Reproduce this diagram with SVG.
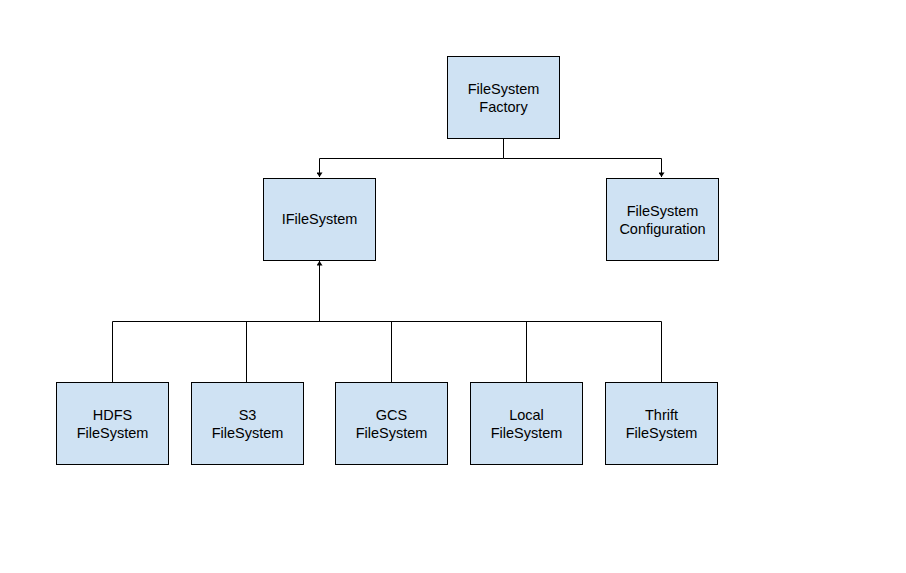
<svg xmlns="http://www.w3.org/2000/svg" width="906" height="573" viewBox="0 0 906 573">
<style>
.box{fill:#cfe2f3;stroke:#000;stroke-width:1}
.t{font-family:"Liberation Sans",Arial,sans-serif;font-size:14.5px;fill:#000;text-anchor:middle}
.c{fill:none;stroke:#000;stroke-width:1}
</style>
<defs>
<marker id="ah" viewBox="0 0 6 8" refX="6" refY="4" markerWidth="5" markerHeight="6" markerUnits="userSpaceOnUse" orient="auto">
<path d="M0,0 L6,4 L0,8 z" fill="#000"/>
</marker>
</defs>
<rect width="906" height="573" fill="#fff"/>
<g id="connectors">
<path class="c" d="M503.5,138 V158.5 H319.5 V177" marker-end="url(#ah)"/>
<path class="c" d="M503.5,158.5 H661.5 V177" marker-end="url(#ah)"/>
<path class="c" d="M112.5,382 V321.5 H661.5 V382"/>
<path class="c" d="M246.5,382 V321.5"/>
<path class="c" d="M391.5,382 V321.5"/>
<path class="c" d="M526.5,382 V321.5"/>
<path class="c" d="M319.5,321.5 V261" marker-end="url(#ah)"/>
</g>
<g id="factory"><rect class="box" x="447.5" y="56.5" width="112" height="82"/><text class="t" x="503.5" y="94">FileSystem</text><text class="t" x="503.5" y="112">Factory</text></g>
<g id="ifilesystem"><rect class="box" x="263.5" y="178.5" width="112" height="82"/><text class="t" x="319.5" y="224">IFileSystem</text></g>
<g id="config"><rect class="box" x="606.5" y="178.5" width="112" height="82"/><text class="t" x="662.5" y="216">FileSystem</text><text class="t" x="662.5" y="234">Configuration</text></g>
<g id="hdfs"><rect class="box" x="56.5" y="382.5" width="112" height="82"/><text class="t" x="112.5" y="420">HDFS</text><text class="t" x="112.5" y="438">FileSystem</text></g>
<g id="s3"><rect class="box" x="191.5" y="382.5" width="112" height="82"/><text class="t" x="247.5" y="420">S3</text><text class="t" x="247.5" y="438">FileSystem</text></g>
<g id="gcs"><rect class="box" x="335.5" y="382.5" width="112" height="82"/><text class="t" x="391.5" y="420">GCS</text><text class="t" x="391.5" y="438">FileSystem</text></g>
<g id="local"><rect class="box" x="470.5" y="382.5" width="112" height="82"/><text class="t" x="526.5" y="420">Local</text><text class="t" x="526.5" y="438">FileSystem</text></g>
<g id="thrift"><rect class="box" x="605.5" y="382.5" width="112" height="82"/><text class="t" x="661.5" y="420">Thrift</text><text class="t" x="661.5" y="438">FileSystem</text></g>
</svg>
